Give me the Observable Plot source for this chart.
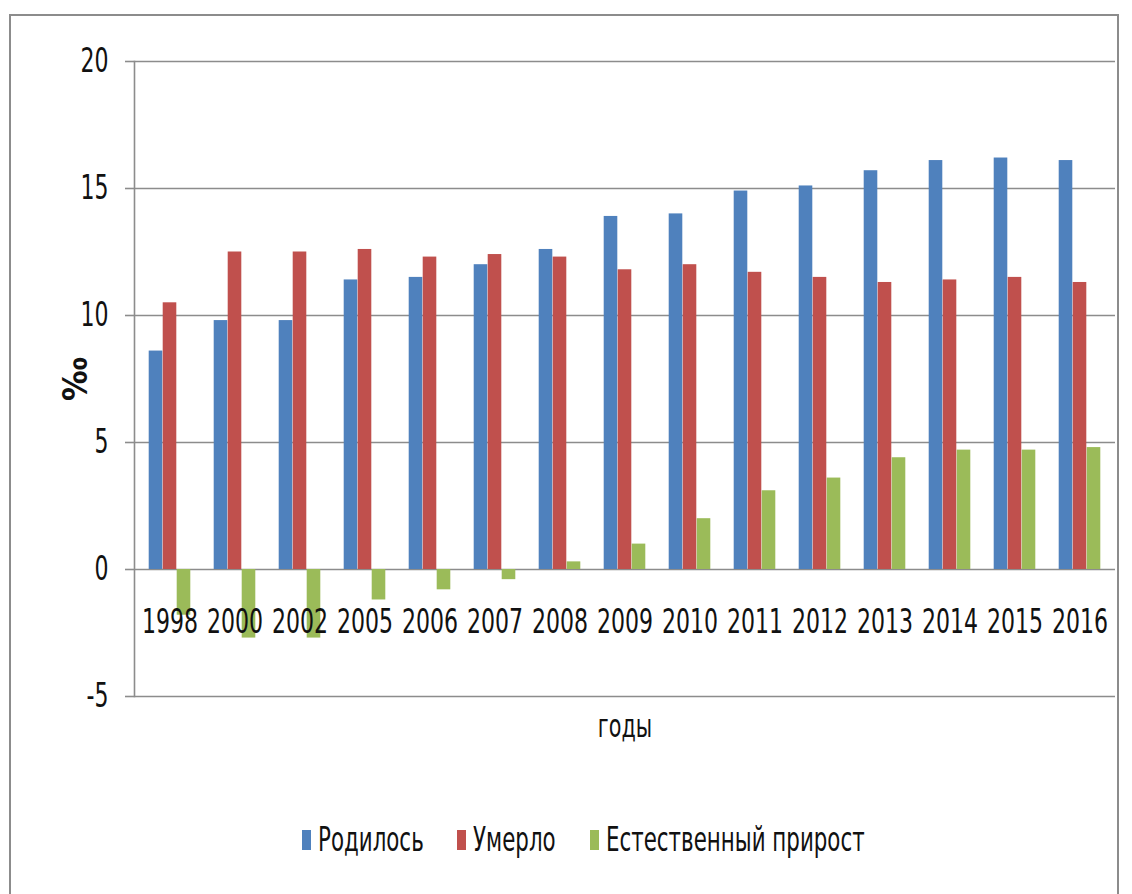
<!DOCTYPE html>
<html>
<head>
<meta charset="utf-8">
<script src="https://cdn.jsdelivr.net/npm/d3@7"></script>
<script src="https://cdn.jsdelivr.net/npm/@observablehq/plot@0.6"></script>
<style>
  html, body { margin: 0; padding: 0; background: #fff; }
  #wrap { position: relative; width: 1132px; height: 894px; overflow: hidden; font-family: "DejaVu Sans Condensed", "DejaVu Sans", sans-serif; }
  #frame { position: absolute; left: 9px; top: 14px; width: 1106px; height: 900px; border: 2px solid #8c8c8c; border-bottom: none; pointer-events: none; }
  #chart { position: absolute; left: 0; top: 0; }
  #legend { position: absolute; left: 0; top: 820px; width: 1132px; display: flex; justify-content: center; align-items: center; font-size: 33px; color: #111; padding-left: 34px; box-sizing: border-box; }
  .item { display: flex; align-items: center; margin: 0 17px; }
  .sw { width: 9px; height: 20px; margin-right: 7px; flex: none; }
  .lbl { display: inline-block; overflow: visible; white-space: nowrap; }
  .lbl span { display: inline-block; transform-origin: 0 50%; }
</style>
</head>
<body>
<div id="wrap">
  <div id="chart"></div>
  <div id="legend"></div>
  <div id="frame"></div>
</div>
<script>
const years = ["1998","2000","2002","2005","2006","2007","2008","2009","2010","2011","2012","2013","2014","2015","2016"];
const born  = [8.6, 9.8, 9.8, 11.4, 11.5, 12.0, 12.6, 13.9, 14.0, 14.9, 15.1, 15.7, 16.1, 16.2, 16.1];
const died  = [10.5, 12.5, 12.5, 12.6, 12.3, 12.4, 12.3, 11.8, 12.0, 11.7, 11.5, 11.3, 11.4, 11.5, 11.3];
const natural = [-1.8, -2.7, -2.7, -1.2, -0.8, -0.4, 0.3, 1.0, 2.0, 3.1, 3.6, 4.4, 4.7, 4.7, 4.8];
const seriesNames = ["Родилось", "Умерло", "Естественный прирост"];
const seriesColors = ["#4F81BD", "#C0504D", "#9BBB59"];
const yTicks = [-5, 0, 5, 10, 15, 20];

const rows = years.map((y, i) => ({year: y, born: born[i], died: died[i], natural: natural[i]}));

const W = 1132, H = 790;
const mL = 134, mR = 17, mT = 61, mB = 94;
const band = (W - mL - mR) / years.length;
const bw = 14;
const off = (band - 3 * bw) / 2;
const SQUEEZE = 0.72;

const chart = Plot.plot({
  width: W,
  height: H,
  marginLeft: mL,
  marginRight: mR,
  marginTop: mT,
  marginBottom: mB,
  style: {fontFamily: "'DejaVu Sans Condensed', 'DejaVu Sans', sans-serif", fontSize: "34px", color: "#111", background: "#fff"},
  x: {domain: years, padding: 0, axis: null},
  y: {domain: [-5, 20], ticks: yTicks},
  marks: [
    Plot.ruleY(yTicks, {stroke: "#8c8c8c", strokeWidth: 1.6}),
    Plot.barY(rows, {x: "year", y: "born", fill: seriesColors[0], insetLeft: off, insetRight: band - off - bw}),
    Plot.barY(rows, {x: "year", y: "died", fill: seriesColors[1], insetLeft: off + bw, insetRight: band - off - 2 * bw}),
    Plot.barY(rows, {x: "year", y: "natural", fill: seriesColors[2], insetLeft: off + 2 * bw, insetRight: off}),
    Plot.frame({anchor: "left", stroke: "#8c8c8c", strokeWidth: 1.6}),
    Plot.axisY({ticks: yTicks, tickFormat: d => String(d), tickSize: 9, tickPadding: 17, stroke: "#8c8c8c", strokeWidth: 1.6, fontSize: 34, label: "‰", labelAnchor: "center", labelOffset: 72, labelArrow: false}),
    Plot.text(rows, {x: "year", y: () => 0, text: "year", dy: 53, fontSize: 34, fill: "#111"}),
    Plot.text(["годы"], {frameAnchor: "bottom", text: d => d, dy: 40, fontSize: 32, fill: "#111"})
  ]
});
document.getElementById("chart").appendChild(chart);

// Narrow the glyphs horizontally, like the condensed font of the original
chart.querySelectorAll("text").forEach(t => {
  if (t.textContent.includes("‰")) { t.setAttribute("font-weight", "bold"); return; }
  const target = t.tagName === "text" && t.querySelector("tspan") ? t.querySelectorAll("tspan") : [t];
  target.forEach(el => {
    const len = el.getComputedTextLength();
    if (len > 0) {
      el.setAttribute("textLength", (len * SQUEEZE).toFixed(2));
      el.setAttribute("lengthAdjust", "spacingAndGlyphs");
    }
  });
});

const legend = document.getElementById("legend");
seriesNames.forEach((n, i) => {
  const it = document.createElement("div");
  it.className = "item";
  const sw = document.createElement("div");
  sw.className = "sw";
  sw.style.background = seriesColors[i];
  const lbl = document.createElement("div");
  lbl.className = "lbl";
  const t = document.createElement("span");
  t.textContent = n;
  lbl.appendChild(t);
  it.appendChild(sw);
  it.appendChild(lbl);
  legend.appendChild(it);
  const w = t.getBoundingClientRect().width;
  t.style.transform = `scaleX(${SQUEEZE})`;
  lbl.style.width = (w * SQUEEZE) + "px";
});
</script>
</body>
</html>
